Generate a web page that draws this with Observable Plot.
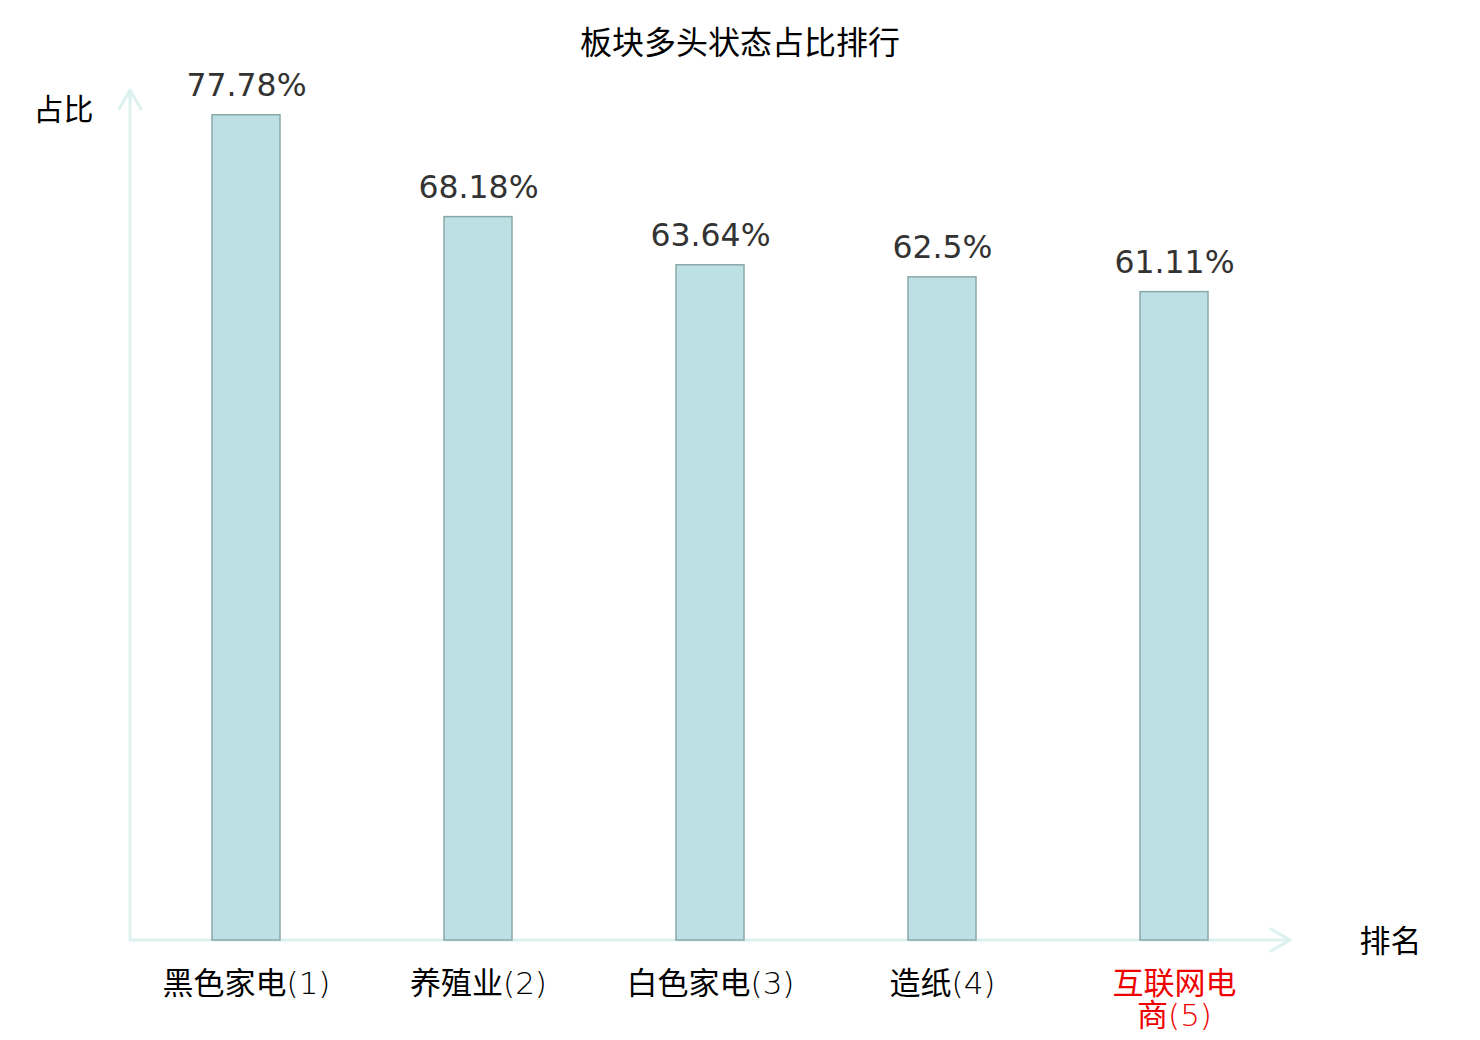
<!DOCTYPE html>
<html>
<head>
<meta charset="utf-8">
<script src="https://cdn.jsdelivr.net/npm/d3@7"></script>
<script src="https://cdn.jsdelivr.net/npm/@observablehq/plot@0.6"></script>
<style>
  html, body { margin: 0; padding: 0; background: #fff; }
  #title { box-sizing: border-box; width: 1480px; height: 60px; padding-top: 22px; line-height: 36px; text-align: center;
           font-family: "Noto Sans CJK SC", sans-serif; font-size: 32px; color: #000; white-space: nowrap; }
  #chart svg { display: block; }
</style>
</head>
<body>
<div id="title">板块多头状态占比排行</div>
<div id="chart"></div>
<script>
const categories = ["黑色家电", "养殖业", "白色家电", "造纸", "互联网电商"];
const ranks = [1, 2, 3, 4, 5];
const values = [77.78, 68.18, 63.64, 62.5, 61.11];
const valueLabels = ["77.78%", "68.18%", "63.64%", "62.5%", "61.11%"];
const highlighted = ["互联网电商"];

const data = categories.map((c, i) => ({name: c, rank: ranks[i], value: values[i], label: valueLabels[i]}));

function wrapLabel(d) {
  const full = d.name + "(" + d.rank + ")";
  if (full.length <= 7) return full;
  return d.name.slice(0, 4) + "\n" + d.name.slice(4) + "(" + d.rank + ")";
}

// render the "(n)" rank part of each tick label in a light weight
function lightRank(index, scales, values, dims, context, next) {
  const g = next(index, scales, values, dims, context);
  const walker = document.createTreeWalker(g, NodeFilter.SHOW_TEXT);
  const nodes = [];
  while (walker.nextNode()) nodes.push(walker.currentNode);
  for (const node of nodes) {
    const m = node.data.match(/\(\d+\)/);
    if (!m) continue;
    const before = node.data.slice(0, m.index);
    const after = node.data.slice(m.index + m[0].length);
    const parent = node.parentNode;
    const ts = document.createElementNS("http://www.w3.org/2000/svg", "tspan");
    ts.setAttribute("font-weight", "200");
    ts.textContent = m[0];
    parent.insertBefore(document.createTextNode(before), node);
    parent.insertBefore(ts, node);
    if (after) parent.insertBefore(document.createTextNode(after), node);
    parent.removeChild(node);
  }
  return g;
}

const axisColor = "#ddf1ee";

function axesMark(index, scales, values, dims) {
  const x0 = dims.marginLeft;
  const x1 = dims.width - dims.marginRight;
  const y0 = scales.y(0);
  const yTop = dims.marginTop;
  const g = d3.create("svg:g")
    .attr("fill", "none")
    .attr("stroke", axisColor)
    .attr("stroke-width", 3)
    .attr("stroke-linecap", "round")
    .attr("stroke-linejoin", "round");
  g.append("path").attr("d", `M${x0},${y0}V${yTop}`);
  g.append("path").attr("d", `M${x0 - 11},${yTop + 19}L${x0},${yTop}L${x0 + 11},${yTop + 19}`);
  g.append("path").attr("d", `M${x0},${y0}H${x1}`);
  g.append("path").attr("d", `M${x1 - 19},${y0 - 11}L${x1},${y0}L${x1 - 19},${y0 + 11}`);
  return g.node();
}

const chart = Plot.plot({
  width: 1480,
  height: 980,
  marginLeft: 130,
  marginRight: 190,
  marginTop: 30,
  marginBottom: 100,
  x: {domain: categories, paddingInner: 0.707, paddingOuter: 0.3535, axis: null},
  y: {domain: [0, d3.max(values) * 1.03], axis: null},
  style: {background: "#fff", overflow: "visible"},
  marks: [
    axesMark,
    Plot.barY(data, {x: "name", y: "value", fill: "#bce0e3", stroke: "#8ba8a9", strokeWidth: 1.5}),
    Plot.text(data, {x: "name", y: "value", text: "label", lineAnchor: "bottom", dy: -19,
      fontSize: 31.5, fill: "#333", fontFamily: "DejaVu Sans"}),
    Plot.text(data, {x: "name", y: () => 0, text: wrapLabel, lineAnchor: "top", dy: 31, lineHeight: 1.02,
      fontSize: 31, fontFamily: "'DejaVu Sans', 'Noto Sans CJK SC'", render: lightRank,
      fill: d => highlighted.includes(d.name) ? "#ee0000" : "#000"}),
    Plot.text(["占比"], {frameAnchor: "top-left", text: d => d, dx: -97, dy: 20, lineAnchor: "middle",
      fontSize: 30, fontFamily: "Noto Sans CJK SC", fill: "#000"}),
    Plot.text(["排名"], {frameAnchor: "bottom-right", text: d => d, dx: 131, dy: 2, lineAnchor: "middle",
      fontSize: 31, fontFamily: "Noto Sans CJK SC", fill: "#000"})
  ]
});
document.getElementById("chart").appendChild(chart);
</script>
</body>
</html>
